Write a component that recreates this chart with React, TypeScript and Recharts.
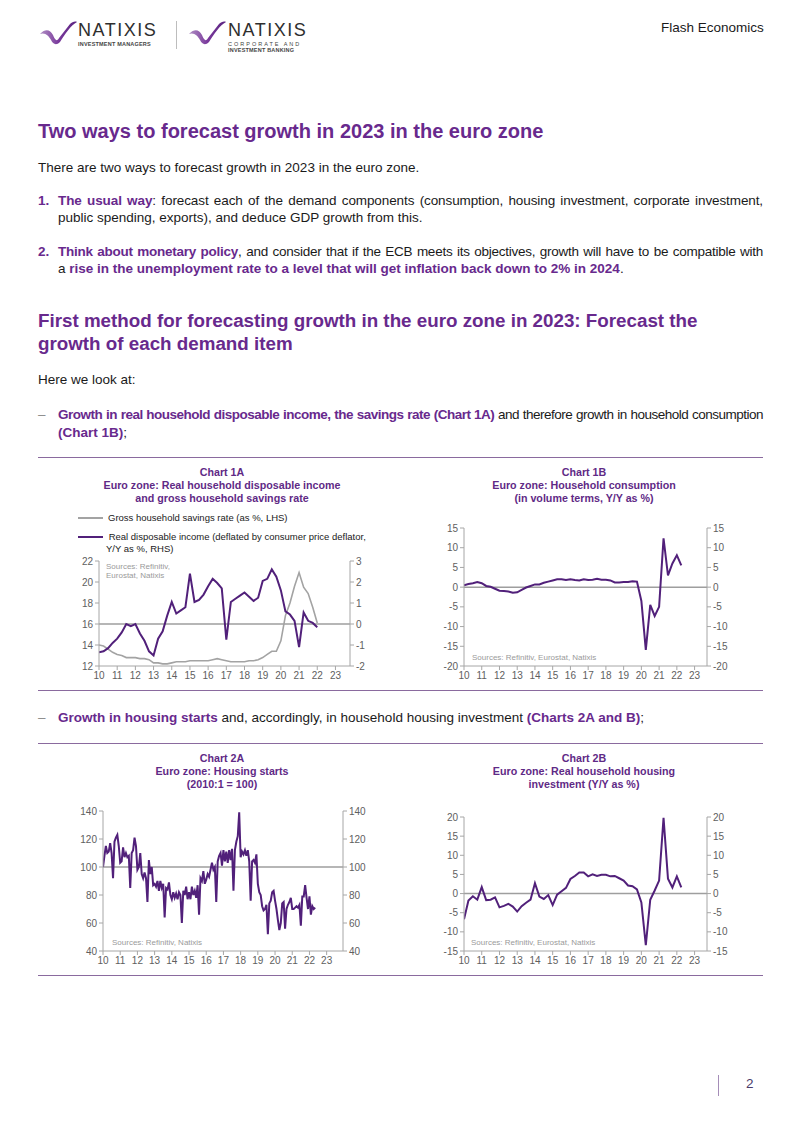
import React from 'react';
import { LineChart, Line, XAxis, YAxis, ReferenceLine } from 'recharts';

// ---------- DATA ----------
const yearTicks = [10, 11, 12, 13, 14, 15, 16, 17, 18, 19, 20, 21, 22, 23];

// Chart 1A: quarterly from 2010Q1 to 2022Q1
const savingsRate = [
  14.0, 13.9, 13.6, 13.3, 13.1, 13.0, 12.8, 12.8, 12.8, 12.7, 12.7, 12.6,
  12.3, 12.3, 12.2, 12.2, 12.3, 12.4, 12.4, 12.4, 12.5, 12.5, 12.5, 12.5,
  12.5, 12.6, 12.7, 12.6, 12.5, 12.4, 12.4, 12.4, 12.4, 12.5, 12.5, 12.6,
  12.8, 13.1, 13.4, 13.4, 14.4, 16.8, 18.0, 19.6, 20.9, 19.5, 18.9, 17.6, 16.1,
];
const realIncome = [
  -1.35, -1.3, -1.15, -0.9, -0.7, -0.4, 0.0, -0.1, 0.0, -0.45, -0.8, -1.3,
  -1.5, -0.7, -0.35, 0.4, 1.05, 0.5, 0.65, 0.8, 2.4, 1.05, 1.15, 1.4,
  1.8, 2.15, 1.95, 1.7, -0.75, 1.05, 1.2, 1.35, 1.5, 1.3, 1.1, 1.25,
  2.05, 2.15, 2.6, 2.25, 1.6, 0.6, 0.45, 0.15, -1.1, 0.55, 0.15, 0.05, -0.15,
];
const leftTicks1A = [12, 14, 16, 18, 20, 22];
const rightTicks1A = [-2, -1, 0, 1, 2, 3];

// Chart 1B: quarterly from 2010Q1 to 2022Q2
const consumption = [
  0.5, 0.8, 1.0, 1.3, 1.0, 0.3, 0.1, -0.4, -0.9, -1.0, -1.1, -1.4,
  -1.3, -0.7, -0.1, 0.3, 0.7, 0.7, 1.1, 1.4, 1.7, 2.0, 2.0, 1.8,
  2.0, 1.8, 1.7, 2.0, 1.8, 1.9, 2.1, 1.9, 1.9, 1.7, 1.2, 1.2,
  1.3, 1.3, 1.5, 1.4, -3.5, -15.9, -4.5, -7.3, -5.0, 12.4, 3.0, 6.0, 8.1, 5.5,
];
const ticks1B = [-20, -15, -10, -5, 0, 5, 10, 15];

// Chart 2A: monthly from 2010-01 to 2022-05
const housingStarts = [
  100, 108, 115, 110, 111, 117, 110, 92, 118, 121, 123, 115,
  103, 104, 114, 107, 110, 107, 108, 85, 110, 112, 121, 115,
  98, 100, 110, 95, 92, 96, 92, 75, 105, 95, 100, 87,
  88, 86, 90, 83, 90, 85, 88, 64, 85, 84, 89, 80,
  77, 82, 78, 81, 77, 82, 80, 60, 83, 80, 86, 77,
  82, 77, 86, 80, 83, 78, 87, 66, 92, 90, 97, 88,
  91, 95, 93, 98, 103, 98, 100, 75, 104, 108, 110, 101,
  112, 104, 111, 103, 112, 105, 113, 83, 112, 118, 122, 139,
  107, 111, 109, 112, 108, 112, 104, 76, 104, 105, 103, 109,
  88, 82, 80, 72, 69, 70, 73, 52, 74, 76, 82, 83,
  76, 70, 62, 55, 60, 74, 75, 56, 70, 73, 75, 78,
  70, 70, 71, 72, 71, 73, 58, 79, 79, 87, 78, 70,
  79, 66, 72, 70, 71,
];
const ticks2A = [40, 60, 80, 100, 120, 140];

// Chart 2B: quarterly from 2010Q1 to 2022Q2
const housingInvestment = [
  -6.7, -1.8, -0.7, -1.6, 1.7, -1.7, -1.6, -1.0, -3.6, -3.2, -2.7, -3.4,
  -4.7, -3.3, -2.4, -1.6, 2.7, -0.8, -1.4, -0.4, -3.0, -0.3, 0.6, 1.5,
  3.8, 4.6, 5.5, 5.5, 4.5, 5.0, 4.6, 4.9, 4.9, 4.5, 4.6, 4.0,
  3.4, 2.1, 1.9, 1.1, -2.3, -13.5, -1.6, 0.8, 3.4, 19.8, 3.9, 1.6, 4.5, 1.6,
];
const ticks2B = [-15, -10, -5, 0, 5, 10, 15, 20];

// ---------- BUILD TABLES ----------
const quarterly = (vals: number[]) => vals.map((v, i) => ({ t: 10 + i / 4, v }));
const data1A = savingsRate.map((s, i) => ({ t: 10 + i / 4, sav: s, inc: realIncome[i] }));
const data1B = quarterly(consumption);
const data2A = housingStarts.map((v, i) => ({ t: 10 + i / 12, v }));
const data2B = quarterly(housingInvestment);

// ---------- STYLES ----------
const FONT = '"Liberation Sans", Arial, Helvetica, sans-serif';
const PURPLE = '#68298D';
const LINE = '#51207A';
const GREY = '#A3A3A3';
const AXIS = '#A6A6A6';
const TICK = { fill: '#606060', fontSize: 10, fontFamily: FONT };

const abs = (left: number, top: number, extra: React.CSSProperties = {}): React.CSSProperties => ({
  position: 'absolute',
  left,
  top,
  ...extra,
});

const B = ({ children }: { children: React.ReactNode }) => (
  <span style={{ color: PURPLE, fontWeight: 'bold' }}>{children}</span>
);

const JLine = ({ top, left = 58, width = 705, last = false, ls = 0, children }: any) => (
  <div
    style={{
      position: 'absolute',
      left,
      top,
      width,
      fontSize: 13.5,
      lineHeight: '17px',
      textAlign: last ? 'left' : 'justify',
      textAlignLast: last ? 'left' : 'justify',
      letterSpacing: ls,
      color: '#1a1a1a',
    } as React.CSSProperties}
  >
    {children}
  </div>
);

const HRule = ({ top }: { top: number }) => (
  <div style={abs(38, top, { width: 725, height: 1, background: '#8A6A9E' })} />
);

const ChartTitle = ({ center, top, lines }: { center: number; top: number; lines: string[] }) => (
  <div
    style={abs(center - 150, top, {
      width: 300,
      textAlign: 'center',
      fontSize: 10.7,
      lineHeight: '13px',
      fontWeight: 'bold',
      color: '#5F2A86',
    })}
  >
    {lines.map((l, i) => (
      <div key={i}>{l}</div>
    ))}
  </div>
);

const Sources = ({ left, top, lines }: { left: number; top: number; lines: string[] }) => (
  <div style={abs(left, top, { fontSize: 8, lineHeight: '9px', color: '#9a9a9a' })}>
    {lines.map((l, i) => (
      <div key={i}>{l}</div>
    ))}
  </div>
);

const Swoosh = ({ x, y }: { x: number; y: number }) => (
  <svg style={abs(x, y)} width={38} height={24} viewBox="0 0 38 24">
    <defs>
      <linearGradient id={`g${x}`} x1="0" y1="0" x2="1" y2="0">
        <stop offset="0" stopColor="#B08FC4" />
        <stop offset="0.5" stopColor="#7A3A9C" />
        <stop offset="1" stopColor="#5A2380" />
      </linearGradient>
    </defs>
    <path
      d="M0,13 C6,7 10,9 13,14 C15,19 17,21 19,17 L30,3 C32,1 35,0 37,1 C31,4 25,13 20,21 C16,25 13,23 11,19 C9,15 5,11 0,13 Z"
      fill={`url(#g${x})`}
    />
  </svg>
);

const xAxisProps = (domainMax: number) => ({
  dataKey: 't',
  type: 'number' as const,
  domain: [10, domainMax] as [number, number],
  ticks: yearTicks,
  interval: 0 as const,
  allowDataOverflow: true,
  height: 20,
  tick: TICK,
  tickSize: 4,
  axisLine: { stroke: AXIS },
  tickLine: { stroke: AXIS },
  tickFormatter: (v: number) => String(v),
});

const yAxisProps = (id: string, domain: [number, number], ticks: number[], orientation: 'left' | 'right') => ({
  yAxisId: id,
  domain,
  ticks,
  interval: 0 as const,
  orientation,
  width: 30,
  tick: TICK,
  tickSize: 4,
  axisLine: { stroke: AXIS },
  tickLine: { stroke: AXIS },
  allowDataOverflow: true,
});

const MARGIN = { top: 11, right: 0, bottom: 0, left: 9 };

export default function App() {
  return (
    <div
      style={{
        position: 'absolute',
        left: 0,
        top: 0,
        width: 802,
        height: 1133,
        background: '#fff',
        fontFamily: FONT,
        overflow: 'hidden',
        color: '#1a1a1a',
      }}
    >
      {/* Header logos */}
      <Swoosh x={40} y={21} />
      <div style={abs(78, 21, { fontSize: 18, letterSpacing: 1.5, color: '#2e2e2e', lineHeight: '19px' })}>NATIXIS</div>
      <div style={abs(78, 41, { fontSize: 5.5, fontWeight: 'bold', color: '#444', letterSpacing: 0.2 })}>
        INVESTMENT MANAGERS
      </div>
      <div style={abs(176, 21, { width: 1, height: 28, background: '#BDBDBD' })} />
      <Swoosh x={189} y={21} />
      <div style={abs(228, 21, { fontSize: 18, letterSpacing: 1.5, color: '#2e2e2e', lineHeight: '19px' })}>NATIXIS</div>
      <div style={abs(228, 41, { fontSize: 5.5, color: '#444', letterSpacing: 2, lineHeight: '6px' })}>
        CORPORATE AND
      </div>
      <div style={abs(228, 47, { fontSize: 5.5, fontWeight: 'bold', color: '#444', lineHeight: '6px', letterSpacing: 0.2 })}>
        INVESTMENT BANKING
      </div>
      <div style={abs(661, 19, { fontSize: 13.5, lineHeight: '17px', color: '#1a1a1a' })}>Flash Economics</div>

      {/* Heading 1 */}
      <div style={abs(38, 119, { fontSize: 20, fontWeight: 'bold', color: PURPLE, lineHeight: '24px' })}>
        Two ways to forecast growth in 2023 in the euro zone
      </div>
      <JLine top={159} left={38} last>
        There are two ways to forecast growth in 2023 in the euro zone.
      </JLine>

      {/* List item 1 */}
      <div style={abs(38, 192, { fontSize: 13.5, lineHeight: '17px', fontWeight: 'bold', color: PURPLE })}>1.</div>
      <JLine top={192} ls={-0.1}>
        <B>The usual way</B>: forecast each of the demand components (consumption, housing investment, corporate
        investment,
      </JLine>
      <JLine top={209} last>
        public spending, exports), and deduce GDP growth from this.
      </JLine>

      {/* List item 2 */}
      <div style={abs(38, 243, { fontSize: 13.5, lineHeight: '17px', fontWeight: 'bold', color: PURPLE })}>2.</div>
      <JLine top={243} ls={-0.25}>
        <B>Think about monetary policy</B>, and consider that if the ECB meets its objectives, growth will have to be
        compatible with
      </JLine>
      <JLine top={260} last>
        a <B>rise in the unemployment rate to a level that will get inflation back down to 2% in 2024</B>.
      </JLine>

      {/* Heading 2 */}
      <div style={abs(38, 309, { fontSize: 18.8, fontWeight: 'bold', color: PURPLE, lineHeight: '23px' })}>
        <div>First method for forecasting growth in the euro zone in 2023: Forecast the</div>
        <div>growth of each demand item</div>
      </div>

      <JLine top={371} left={38} last>
        Here we look at:
      </JLine>

      {/* Bullet 1 */}
      <div style={abs(38, 406, { fontSize: 13.5, lineHeight: '17px', color: '#888' })}>–</div>
      <JLine top={406} ls={-0.5}>
        <B>Growth in real household disposable income, the savings rate (Chart 1A)</B> and therefore growth in
        household consumption
      </JLine>
      <JLine top={424} last>
        <B>(Chart 1B)</B>;
      </JLine>

      <HRule top={457} />

      {/* Chart 1A */}
      <ChartTitle
        center={222}
        top={466}
        lines={['Chart 1A', 'Euro zone: Real household disposable income', 'and gross household savings rate']}
      />
      <svg style={abs(76, 512)} width={30} height={30}>
        <line x1={2} y1={6} x2={27} y2={6} stroke={GREY} strokeWidth={2} />
        <line x1={2} y1={25} x2={27} y2={25} stroke={LINE} strokeWidth={2} />
      </svg>
      <div style={abs(108, 512, { fontSize: 9.5, lineHeight: '12px', color: '#1a1a1a' })}>
        Gross household savings rate (as %, LHS)
      </div>
      <div style={abs(106, 531, { fontSize: 9.5, lineHeight: '11.5px', color: '#1a1a1a' })}>
        <div>&nbsp;Real disposable income (deflated by consumer price deflator,</div>
        <div>Y/Y as %, RHS)</div>
      </div>
      <div style={abs(60, 550)}>
        <LineChart width={320} height={136} data={data1A} margin={MARGIN}>
          <XAxis {...xAxisProps(23.8)} />
          <YAxis {...yAxisProps('l', [12, 22], leftTicks1A, 'left')} />
          <YAxis {...yAxisProps('r', [-2, 3], rightTicks1A, 'right')} />
          <ReferenceLine yAxisId="l" y={16} stroke="#9E9E9E" strokeWidth={1.5} />
          <Line yAxisId="l" dataKey="sav" stroke={GREY} strokeWidth={1.6} dot={false} isAnimationActive={false} type="linear" />
          <Line yAxisId="r" dataKey="inc" stroke={LINE} strokeWidth={2} dot={false} isAnimationActive={false} type="linear" />
        </LineChart>
      </div>
      <Sources left={106} top={562} lines={['Sources: Refinitiv,', 'Eurostat, Natixis']} />

      {/* Chart 1B */}
      <ChartTitle
        center={584}
        top={466}
        lines={['Chart 1B', 'Euro zone: Household consumption', '(in volume terms, Y/Y as %)']}
      />
      <div style={abs(425, 517)}>
        <LineChart width={312} height={169} data={data1B} margin={MARGIN}>
          <XAxis {...xAxisProps(23.7)} />
          <YAxis {...yAxisProps('l', [-20, 15], ticks1B, 'left')} />
          <YAxis {...yAxisProps('r', [-20, 15], ticks1B, 'right')} />
          <ReferenceLine yAxisId="l" y={0} stroke="#9E9E9E" strokeWidth={1.5} />
          <Line yAxisId="l" dataKey="v" stroke={LINE} strokeWidth={2} dot={false} isAnimationActive={false} type="linear" />
        </LineChart>
      </div>
      <Sources left={472} top={653} lines={['Sources: Refinitiv, Eurostat, Natixis']} />

      <HRule top={690} />

      {/* Bullet 2 */}
      <div style={abs(38, 709, { fontSize: 13.5, lineHeight: '17px', color: '#888' })}>–</div>
      <JLine top={709} last>
        <B>Growth in housing starts</B> and, accordingly, in household housing investment <B>(Charts 2A and B)</B>;
      </JLine>

      <HRule top={743} />

      {/* Chart 2A */}
      <ChartTitle center={222} top={752} lines={['Chart 2A', 'Euro zone: Housing starts', '(2010:1 = 100)']} />
      <div style={abs(64, 800)}>
        <LineChart width={309} height={171} data={data2A} margin={MARGIN}>
          <XAxis {...xAxisProps(23.95)} />
          <YAxis {...yAxisProps('l', [40, 140], ticks2A, 'left')} />
          <YAxis {...yAxisProps('r', [40, 140], ticks2A, 'right')} />
          <ReferenceLine yAxisId="l" y={100} stroke="#9E9E9E" strokeWidth={1.5} />
          <Line yAxisId="l" dataKey="v" stroke={LINE} strokeWidth={2} dot={false} isAnimationActive={false} type="linear" />
        </LineChart>
      </div>
      <Sources left={112} top={938} lines={['Sources: Refinitiv, Natixis']} />

      {/* Chart 2B */}
      <ChartTitle
        center={584}
        top={752}
        lines={['Chart 2B', 'Euro zone: Real household housing', 'investment (Y/Y as %)']}
      />
      <div style={abs(425, 806)}>
        <LineChart width={312} height={165} data={data2B} margin={MARGIN}>
          <XAxis {...xAxisProps(23.7)} />
          <YAxis {...yAxisProps('l', [-15, 20], ticks2B, 'left')} />
          <YAxis {...yAxisProps('r', [-15, 20], ticks2B, 'right')} />
          <ReferenceLine yAxisId="l" y={0} stroke="#9E9E9E" strokeWidth={1.5} />
          <Line yAxisId="l" dataKey="v" stroke={LINE} strokeWidth={2} dot={false} isAnimationActive={false} type="linear" />
        </LineChart>
      </div>
      <Sources left={471} top={938} lines={['Sources: Refinitiv, Eurostat, Natixis']} />

      <HRule top={975} />

      {/* Footer */}
      <div style={abs(718, 1075, { width: 1, height: 21, background: '#A58DB8' })} />
      <div style={abs(746, 1075, { fontSize: 13.5, lineHeight: '17px', color: '#4A3A6A' })}>2</div>
    </div>
  );
}
